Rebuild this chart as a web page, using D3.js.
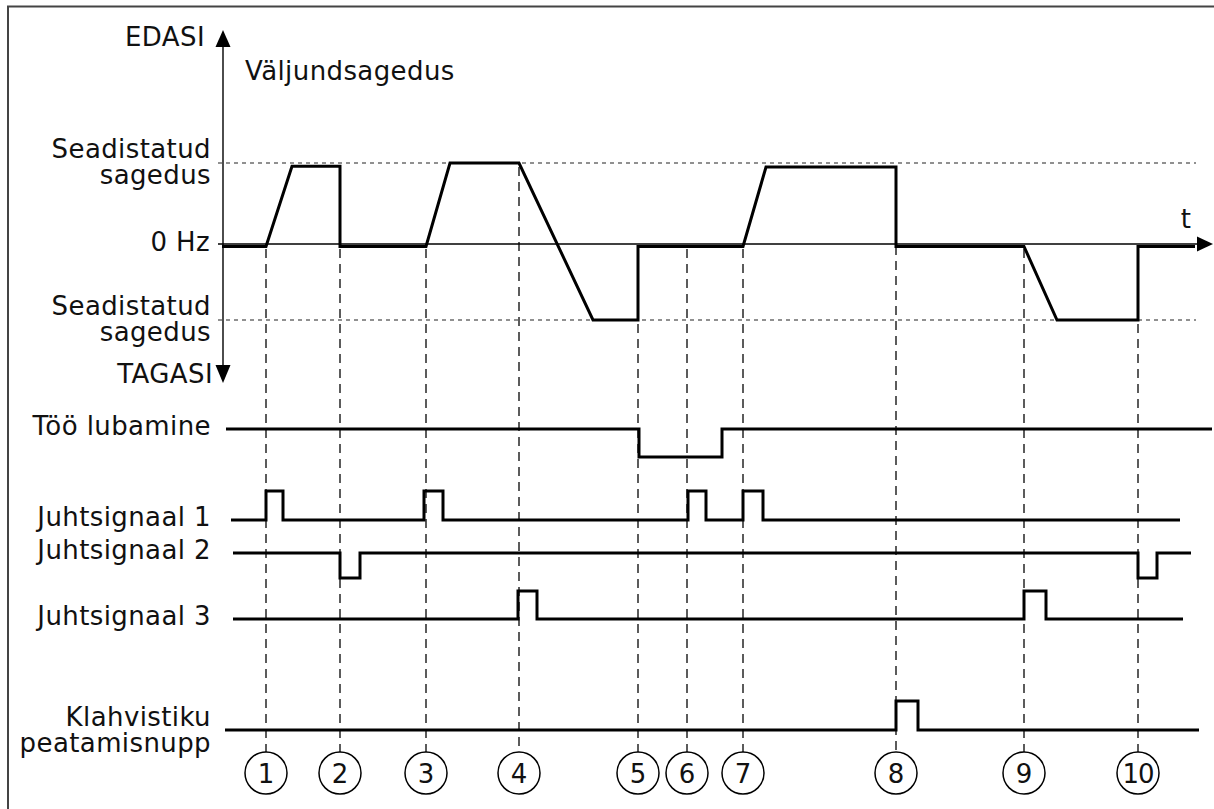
<!DOCTYPE html>
<html>
<head>
<meta charset="utf-8">
<script src="https://cdn.jsdelivr.net/npm/d3@7"></script>
<style>
  html, body { margin: 0; padding: 0; background: #fff; }
  svg { display: block; font-family: "DejaVu Sans", Verdana, sans-serif; }
</style>
</head>
<body>
<svg id="chart" width="1214" height="809"></svg>
<script>
// ---------- DATA ----------
// event markers (time units) and labels
const eventTimes  = [4.4, 11.8, 20.4, 29.7, 41.6, 46.5, 52.1, 67.4, 80.2, 91.6];
const eventLabels = ["1","2","3","4","5","6","7","8","9","10"];
// frequency level where each event's dashed marker starts (-1..1 of set frequency)
const eventStartLevel = [0, 0, 0, 1, -1, 0, 0, 0.95, 0, -1];

// output frequency trace: [time, level]  (1 = set freq forward, -1 = set freq reverse)
const freqTime  = [0, 4.4, 7.0, 11.8, 11.8, 20.4, 22.8, 29.7, 37.1, 41.6, 41.6, 52.1, 54.4, 67.4, 67.4, 80.2, 83.5, 91.6, 91.6, 97.3];
const freqLevel = [0, 0,   0.96, 0.96, 0,   0,    1,    1,    -1,   -1,   0,    0,    0.95, 0.95, 0,    0,    -1,   -1,   0,    0];

// frequency axis labels
const freqLabels = [
  { level: 1,  lines: ["Seadistatud", "sagedus"] },
  { level: 0,  lines: ["0 Hz"] },
  { level: -1, lines: ["Seadistatud", "sagedus"] }
];

// digital signals
const signalNames  = ["Töö lubamine", "Juhtsignaal 1", "Juhtsignaal 2", "Juhtsignaal 3", ["Klahvistiku", "peatamisnupp"]];
const signalStart  = [0.4, 0.9, 1.1, 1.1, 0.3];
const signalEnd    = [99.0, 95.8, 96.9, 96.1, 97.7];
// idle state: 1 = high, 0 = low
const signalIdle   = [1, 0, 1, 0, 0];
// pulses (opposite of idle state): [from, to]
const signalPulses = [
  [[41.7, 50.0]],
  [[4.4, 6.1], [20.2, 22.1], [46.6, 48.4], [52.1, 54.1]],
  [[11.8, 13.8], [91.6, 93.5]],
  [[29.6, 31.5], [80.2, 82.4]],
  [[67.4, 69.6]]
];

// ---------- LAYOUT ----------
const svg = d3.select("#chart");
const x = d3.scaleLinear().domain([0, 99.2]).range([222, 1214]);
const yF = d3.scaleLinear().domain([-1, 0, 1]).range([320, 245, 163]);
// digital lanes: low-level y and high-level y
const laneLow  = d3.scaleOrdinal().domain(d3.range(5)).range([457, 520, 578, 619, 730]);
const laneHigh = d3.scaleOrdinal().domain(d3.range(5)).range([429, 491, 553, 591, 701]);

const FS = 26;
const LS = 0.4;
const black = "#000";

function label(sel) {
  return sel.attr("font-size", FS).attr("letter-spacing", LS).attr("fill", "#111");
}

// frame (left + top)
svg.append("path").attr("d", "M8,809 V6.5 H1214")
  .attr("fill", "none").attr("stroke", "#444").attr("stroke-width", 2);

// set frequency reference lines (dotted)
[1, -1].forEach(l => {
  svg.append("line")
    .attr("x1", 218).attr("x2", 1196)
    .attr("y1", yF(l)).attr("y2", yF(l))
    .attr("stroke", "#222").attr("stroke-width", 1.2)
    .attr("stroke-dasharray", "4,4");
});

// event dashed verticals
const dashEnd = 752;
svg.append("g").selectAll("line").data(eventTimes).join("line")
  .attr("x1", d => x(d)).attr("x2", d => x(d))
  .attr("y1", (d, i) => yF(eventStartLevel[i]) + 4)
  .attr("y2", dashEnd)
  .attr("stroke", "#333").attr("stroke-width", 1.6)
  .attr("stroke-dasharray", "9,6");

// time axis (0 Hz)
svg.append("line").attr("x1", 218).attr("x2", 1200)
  .attr("y1", 244).attr("y2", 244)
  .attr("stroke", black).attr("stroke-width", 1.4);
svg.append("path").attr("d", "M1197,236.5 L1213,244 L1197,251.5 Z").attr("fill", black);
label(svg.append("text")).attr("x", 1186).attr("y", 228)
  .attr("text-anchor", "middle").text("t");

// frequency axis (vertical, both directions)
svg.append("line").attr("x1", 223).attr("x2", 223).attr("y1", 46).attr("y2", 366)
  .attr("stroke", black).attr("stroke-width", 1.4);
svg.append("path").attr("d", "M223,30 L230.5,47 L215.5,47 Z").attr("fill", black);
svg.append("path").attr("d", "M223,383 L230.5,365 L215.5,365 Z").attr("fill", black);
label(svg.append("text")).attr("x", 205).attr("y", 46)
  .attr("text-anchor", "end").text("EDASI");
label(svg.append("text")).attr("x", 213).attr("y", 383)
  .attr("text-anchor", "end").text("TAGASI");
label(svg.append("text")).attr("x", 245).attr("y", 80).text("Väljundsagedus");

// frequency labels
freqLabels.forEach(fl => {
  const t = label(svg.append("text")).attr("text-anchor", "end");
  if (fl.lines.length === 1) {
    t.attr("x", 210).attr("y", yF(fl.level) + 6).text(fl.lines[0]);
  } else {
    const base = yF(fl.level) - 5;
    fl.lines.forEach((ln, k) => {
      t.append("tspan").attr("x", 211).attr("y", base + k * 26).text(ln);
    });
  }
});

// frequency trace
const freqPts = freqTime.map((t, i) => [t, freqLevel[i]]);
svg.append("path")
  .attr("d", d3.line().x(d => x(d[0])).y(d => yF(d[1]) + (d[1] === 0 ? 1.5 : 0))(freqPts))
  .attr("fill", "none").attr("stroke", black).attr("stroke-width", 3)
  .attr("stroke-linejoin", "miter");

// digital signals
signalNames.forEach((name, i) => {
  const idle = signalIdle[i];
  const pts = [[signalStart[i], idle]];
  signalPulses[i].forEach(([a, b]) => {
    pts.push([a, idle], [a, 1 - idle], [b, 1 - idle], [b, idle]);
  });
  pts.push([signalEnd[i], idle]);
  svg.append("path")
    .attr("d", d3.line().x(d => x(d[0])).y(d => d[1] ? laneHigh(i) : laneLow(i))(pts))
    .attr("fill", "none").attr("stroke", black).attr("stroke-width", 3)
    .attr("stroke-linejoin", "miter");
  const ly = idle ? laneHigh(i) : laneLow(i);
  const t = label(svg.append("text")).attr("text-anchor", "end");
  if (Array.isArray(name)) {
    t.append("tspan").attr("x", 211).attr("y", ly - 4).text(name[0]);
    t.append("tspan").attr("x", 211).attr("y", ly + 22).text(name[1]);
  } else {
    t.attr("x", 211).attr("y", ly + 6).text(name);
  }
});

// event circles
const cy = 773, r = 21;
const ev = svg.append("g").selectAll("g").data(eventTimes).join("g")
  .attr("transform", d => `translate(${x(d)},${cy})`);
ev.append("ellipse").attr("rx", r).attr("ry", r)
  .attr("fill", "#fff").attr("stroke", black).attr("stroke-width", 1.5);
ev.append("text").attr("text-anchor", "middle").attr("y", 10)
  .attr("font-size", 26).attr("fill", "#111")
  .attr("letter-spacing", (d, i) => eventLabels[i].length > 1 ? -1 : 0)
  .text((d, i) => eventLabels[i]);
</script>
</body>
</html>
